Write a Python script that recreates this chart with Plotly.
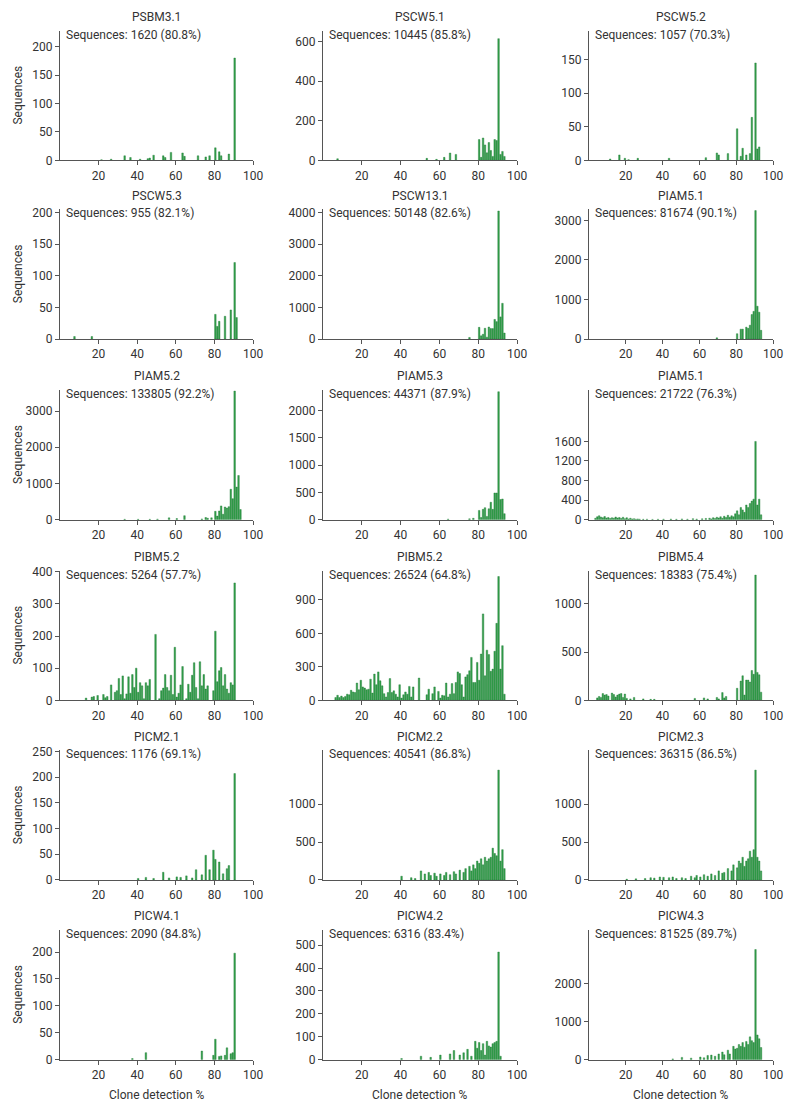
import plotly.graph_objects as go

# ---------------- data (bin: clone detection %, count: sequences) ----------------
panel_titles = ["PSBM3.1", "PSCW5.1", "PSCW5.2",
                "PSCW5.3", "PSCW13.1", "PIAM5.1",
                "PIAM5.2", "PIAM5.3", "PIAM5.1",
                "PIBM5.2", "PIBM5.2", "PIBM5.4",
                "PICM2.1", "PICM2.2", "PICM2.3",
                "PICW4.1", "PICW4.2", "PICW4.3"]

panel_notes = ["Sequences: 1620 (80.8%)", "Sequences: 10445 (85.8%)", "Sequences: 1057 (70.3%)",
               "Sequences: 955 (82.1%)", "Sequences: 50148 (82.6%)", "Sequences: 81674 (90.1%)",
               "Sequences: 133805 (92.2%)", "Sequences: 44371 (87.9%)", "Sequences: 21722 (76.3%)",
               "Sequences: 5264 (57.7%)", "Sequences: 26524 (64.8%)", "Sequences: 18383 (75.4%)",
               "Sequences: 1176 (69.1%)", "Sequences: 40541 (86.8%)", "Sequences: 36315 (86.5%)",
               "Sequences: 2090 (84.8%)", "Sequences: 6316 (83.4%)", "Sequences: 81525 (89.7%)"]

y_ticks = [[0, 50, 100, 150, 200], [0, 200, 400, 600], [0, 50, 100, 150],
           [0, 50, 100, 150, 200], [0, 1000, 2000, 3000, 4000], [0, 1000, 2000, 3000],
           [0, 1000, 2000, 3000], [0, 500, 1000, 1500, 2000], [0, 400, 800, 1200, 1600],
           [0, 100, 200, 300, 400], [0, 300, 600, 900], [0, 500, 1000],
           [0, 50, 100, 150, 200, 250], [0, 500, 1000], [0, 500, 1000],
           [0, 50, 100, 150, 200], [0, 100, 200, 300, 400, 500], [0, 1000, 2000]]

y_max = [228, 655, 193,
         205, 4100, 3280,
         3578, 2380, 2650,
         403, 1162, 1345,
         252, 1710, 1710,
         241, 566, 3413]

x_ticks = [20, 40, 60, 80, 100]

PSBM3_1 = [(21, 1), (26, 2), (33, 8), (36, 5), (41, 2), (45, 3), (46, 4), (48, 9), (53, 8), (54, 5),
           (57, 14), (63, 13), (64, 7), (71, 8), (75, 6), (77, 8), (80, 22), (82, 15), (83, 8),
           (87, 11), (90, 180)]

PSCW5_1 = [(7, 8), (53, 10), (58, 5), (62, 15), (65, 37), (68, 30), (80, 105), (81, 15), (82, 113),
           (83, 78), (84, 38), (85, 90), (86, 50), (87, 20), (88, 105), (89, 100), (90, 615),
           (91, 30), (92, 45), (93, 20)]

PSCW5_2 = [(11, 2), (16, 8), (19, 3), (21, 1), (26, 3), (43, 3), (63, 4), (69, 11), (70, 8),
           (75, 10), (80, 47), (82, 6), (83, 18), (85, 8), (87, 10), (88, 64), (90, 145), (91, 17),
           (92, 20)]

PSCW5_3 = [(7, 4), (16, 4), (80, 39), (81, 20), (82, 28), (85, 36), (88, 46), (90, 121), (91, 34)]

PSCW13_1 = [(75, 50), (80, 370), (81, 100), (82, 150), (83, 340), (84, 60), (85, 380), (86, 330),
            (87, 330), (88, 620), (89, 550), (90, 4050), (91, 700), (92, 1130), (93, 190)]

PIAM5_1 = [(69, 30), (80, 135), (82, 250), (83, 250), (85, 300), (86, 270), (87, 350), (88, 620),
           (89, 700), (90, 3250), (91, 830), (92, 680), (93, 220)]

PIAM5_2 = [(33, 10), (40, 10), (46, 10), (50, 15), (56, 50), (60, 30), (64, 110), (73, 20), (75, 60),
           (76, 40), (78, 50), (80, 230), (81, 100), (82, 240), (83, 380), (84, 150), (85, 350),
           (86, 320), (87, 360), (88, 840), (89, 580), (90, 3550), (91, 900), (92, 1220), (93, 280)]

PIAM5_3 = [(64, 10), (75, 15), (77, 25), (80, 170), (81, 40), (82, 190), (83, 220), (84, 60),
           (85, 200), (86, 320), (87, 190), (88, 490), (89, 490), (90, 2350), (91, 370), (92, 380),
           (93, 110)]

PIAM5_1B = [(3, 30), (4, 60), (5, 80), (6, 55), (7, 40), (8, 65), (9, 35), (10, 45), (11, 25),
            (12, 40), (13, 30), (14, 55), (15, 35), (16, 45), (17, 25), (18, 50), (19, 20), (20, 40),
            (21, 15), (22, 30), (23, 15), (24, 20), (25, 10), (26, 15), (27, 10), (29, 8), (31, 10),
            (34, 6), (37, 8), (40, 10), (44, 12), (47, 8), (50, 15), (53, 10), (56, 20), (58, 12),
            (61, 18), (63, 25), (65, 30), (66, 15), (67, 40), (68, 25), (69, 50), (70, 35), (71, 60),
            (72, 30), (73, 70), (74, 45), (75, 90), (76, 50), (77, 80), (78, 60), (79, 120),
            (80, 180), (81, 100), (82, 250), (83, 200), (84, 150), (85, 300), (86, 250), (87, 330),
            (88, 380), (89, 420), (90, 1600), (91, 300), (92, 420), (93, 100)]

PIBM5_2A = [(13, 7), (16, 10), (17, 12), (19, 15), (22, 18), (23, 8), (24, 12), (26, 48), (28, 25),
            (29, 30), (30, 68), (31, 18), (32, 76), (33, 5), (34, 20), (35, 73), (36, 22), (37, 80),
            (38, 40), (39, 100), (40, 25), (41, 55), (42, 45), (43, 5), (44, 55), (45, 45), (46, 65),
            (49, 205), (51, 5), (52, 30), (53, 38), (54, 80), (55, 40), (56, 30), (57, 78), (58, 18),
            (59, 165), (60, 10), (61, 22), (62, 48), (63, 105), (65, 5), (66, 50), (67, 25), (68, 78),
            (69, 117), (70, 40), (71, 5), (72, 120), (73, 45), (74, 80), (75, 35), (76, 45), (79, 30),
            (80, 215), (81, 58), (82, 92), (83, 102), (84, 45), (85, 80), (86, 35), (87, 22),
            (88, 55), (89, 48), (90, 365)]

PIBM5_2B = [(6, 25), (7, 45), (8, 25), (9, 38), (10, 25), (11, 35), (12, 55), (13, 50), (14, 90),
            (15, 75), (16, 70), (17, 155), (18, 95), (19, 180), (20, 120), (21, 110), (22, 95),
            (23, 100), (24, 190), (25, 65), (26, 235), (27, 140), (28, 255), (29, 175), (30, 130),
            (31, 60), (32, 30), (33, 70), (34, 195), (35, 70), (36, 85), (37, 55), (38, 30), (39, 140),
            (40, 20), (41, 50), (42, 75), (43, 55), (44, 125), (45, 30), (46, 120), (49, 200),
            (53, 50), (54, 100), (56, 60), (57, 120), (59, 80), (60, 20), (61, 45), (62, 40),
            (63, 155), (64, 30), (65, 55), (66, 150), (67, 60), (68, 160), (69, 255), (70, 240),
            (71, 140), (72, 30), (73, 210), (74, 230), (75, 265), (76, 385), (77, 160), (78, 160),
            (79, 340), (80, 180), (81, 415), (82, 775), (83, 220), (84, 450), (85, 410), (86, 260),
            (87, 280), (88, 440), (89, 690), (90, 1110), (91, 280), (92, 490), (93, 55)]

PIBM5_4 = [(4, 25), (5, 40), (6, 30), (7, 70), (8, 55), (9, 60), (10, 45), (12, 75), (13, 60),
           (14, 35), (15, 55), (16, 65), (17, 70), (18, 30), (19, 65), (20, 20), (22, 15), (24, 30),
           (29, 15), (33, 10), (35, 10), (57, 20), (62, 25), (64, 15), (69, 30), (70, 15), (72, 80),
           (73, 25), (74, 40), (80, 125), (82, 200), (83, 255), (84, 55), (85, 210), (86, 210),
           (87, 190), (88, 310), (89, 270), (90, 1300), (91, 290), (92, 265), (93, 85)]

PICM2_1 = [(40, 3), (44, 5), (48, 3), (53, 15), (56, 4), (60, 6), (62, 5), (65, 8), (68, 4), (70, 20),
           (73, 10), (75, 48), (77, 20), (79, 58), (80, 40), (82, 35), (84, 12), (86, 22), (87, 28),
           (90, 207)]

PICM2_2 = [(40, 50), (45, 30), (47, 20), (50, 120), (52, 80), (54, 100), (55, 60), (57, 90), (58, 50),
           (60, 80), (62, 60), (63, 100), (65, 70), (67, 110), (68, 80), (70, 130), (72, 100),
           (73, 150), (75, 180), (76, 120), (77, 200), (78, 150), (79, 250), (80, 220), (81, 280),
           (82, 200), (83, 300), (84, 250), (85, 280), (86, 300), (87, 420), (88, 350), (89, 320),
           (90, 1450), (91, 250), (92, 400), (93, 150)]

PICM2_3 = [(20, 10), (25, 15), (30, 20), (33, 30), (35, 25), (38, 40), (40, 35), (43, 30), (45, 40),
           (47, 20), (50, 30), (52, 20), (55, 50), (57, 30), (58, 60), (60, 40), (62, 70), (64, 50),
           (66, 80), (68, 60), (70, 120), (72, 90), (73, 100), (75, 150), (77, 120), (78, 200),
           (80, 160), (81, 250), (82, 220), (83, 300), (84, 180), (85, 250), (86, 280), (87, 380),
           (88, 300), (89, 400), (90, 1450), (91, 300), (92, 250), (93, 120)]

PICW4_1 = [(37, 2), (44, 13), (73, 16), (79, 8), (80, 38), (82, 6), (83, 7), (85, 8), (86, 22),
           (88, 11), (89, 13), (90, 198)]

PICW4_2 = [(40, 5), (50, 15), (55, 10), (60, 20), (65, 25), (67, 40), (70, 20), (72, 30), (74, 45),
           (76, 15), (78, 80), (79, 50), (80, 75), (81, 40), (82, 70), (83, 20), (84, 80), (85, 60),
           (86, 55), (87, 70), (88, 75), (89, 80), (90, 470), (91, 15)]

PICW4_3 = [(45, 20), (50, 60), (55, 40), (60, 70), (62, 50), (64, 110), (66, 120), (68, 90),
           (70, 150), (72, 200), (73, 130), (75, 250), (76, 150), (78, 350), (79, 280), (80, 300),
           (81, 400), (82, 350), (83, 450), (84, 330), (85, 480), (86, 400), (87, 600), (88, 500),
           (89, 450), (90, 2900), (91, 650), (92, 550), (93, 320)]

panel_data = [PSBM3_1, PSCW5_1, PSCW5_2,
              PSCW5_3, PSCW13_1, PIAM5_1,
              PIAM5_2, PIAM5_3, PIAM5_1B,
              PIBM5_2A, PIBM5_2B, PIBM5_4,
              PICM2_1, PICM2_2, PICM2_3,
              PICW4_1, PICW4_2, PICW4_3]

# ---------------- layout geometry ----------------
# Target positions are in page pixels; the page keeps its default 8px margin,
# so the figure is sized to fit the window exactly inside that margin.
PAGE_W, PAGE_H = 792, 1113
OFF = 8
W, H = PAGE_W - 2 * OFF, PAGE_H - 2 * OFF
COL_PX = [(60, 253), (323, 517), (589, 773)]
ROW_BASE = [152, 334, 518, 702, 885, 1068]
PLOT_H = 132
FONT = "Roboto"
TXT = "#333333"
AXC = "#555555"
BAR_FILL = "#33a04b"
BAR_EDGE = "#1f7a34"


def vmap(py):
    # gentle vertical squeeze so top titles and bottom labels stay inside the figure
    return 17 + (py - 6) * (1095 - 17) / (1104 - 6)


def fx(px):
    return (px - OFF) / W


def fy(py):
    return 1 - (vmap(py) - OFF) / H


fig = go.Figure()
annotations = []
layout = {}

for i, pts in enumerate(panel_data):
    r, c = divmod(i, 3)
    x0, x1 = COL_PX[c]
    base = ROW_BASE[r]
    top = base - PLOT_H
    xa = "xaxis" if i == 0 else f"xaxis{i+1}"
    ya = "yaxis" if i == 0 else f"yaxis{i+1}"
    xr = "x" if i == 0 else f"x{i+1}"
    yr = "y" if i == 0 else f"y{i+1}"

    bins = [p[0] for p in pts]
    counts = [p[1] for p in pts]
    fig.add_trace(go.Bar(x=bins, y=counts, xaxis=xr, yaxis=yr, offset=0.1, width=0.8,
                         marker=dict(color=BAR_FILL, line=dict(color=BAR_EDGE, width=0.4)),
                         showlegend=False))

    layout[xa] = dict(domain=[fx(x0), fx(x1)], anchor=yr, range=[0, 100], tickvals=x_ticks,
                      showline=True, linecolor=AXC, linewidth=1, ticks="outside", ticklen=4,
                      tickcolor=AXC, showgrid=False, zeroline=False, automargin=False,
                      tickfont=dict(family=FONT, size=12, color=TXT))
    layout[ya] = dict(domain=[fy(base), fy(top)], anchor=xr, range=[0, y_max[i]],
                      tickvals=y_ticks[i], showline=True, linecolor=AXC, linewidth=1,
                      ticks="outside", ticklen=4, tickcolor=AXC, showgrid=False, zeroline=False,
                      automargin=False, tickfont=dict(family=FONT, size=12, color=TXT))

    annotations.append(dict(text=panel_titles[i], xref="paper", yref="paper",
                            x=fx((x0 + x1) / 2), y=fy(top - 14), xanchor="center",
                            yanchor="middle", showarrow=False,
                            font=dict(family=FONT, size=12, color=TXT)))
    annotations.append(dict(text=panel_notes[i], xref="paper", yref="paper",
                            x=fx(x0 + 4), y=fy(top + 4), xanchor="left",
                            yanchor="middle", showarrow=False,
                            font=dict(family=FONT, size=12, color=TXT)))
    if c == 0:
        annotations.append(dict(text="Sequences", xref="paper", yref="paper",
                                x=fx(18), y=fy(base - PLOT_H / 2), xanchor="center",
                                yanchor="middle", textangle=-90, showarrow=False,
                                font=dict(family=FONT, size=12, color=TXT)))
    if r == 5:
        annotations.append(dict(text="Clone detection %", xref="paper", yref="paper",
                                x=fx((x0 + x1) / 2), y=fy(base + 36), xanchor="center",
                                yanchor="middle", showarrow=False,
                                font=dict(family=FONT, size=12, color=TXT)))

fig.update_layout(width=W, height=H, margin=dict(l=0, r=0, t=0, b=0, pad=0, autoexpand=False),
                  paper_bgcolor="white", plot_bgcolor="white",
                  annotations=annotations, **layout)

fig.write_html("out.html")
